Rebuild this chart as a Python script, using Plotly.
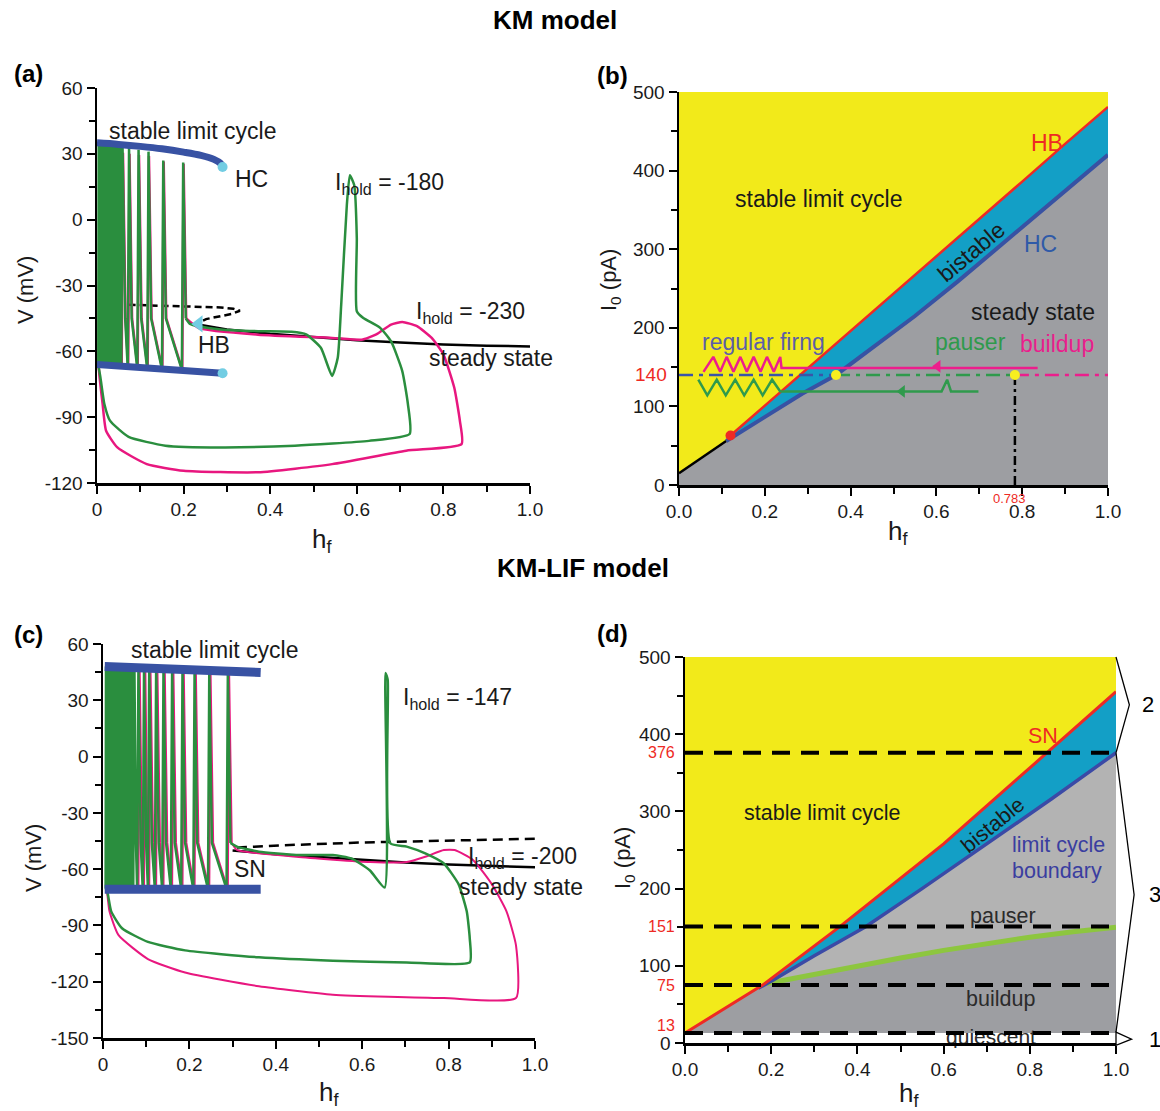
import plotly.graph_objects as go

W, H = 1160, 1111
FONT = "Arial, Liberation Sans, sans-serif"

YEL = "#f2ea1a"; CYAN = "#139fc6"; GRAY = "#9d9ea2"; LGRAY = "#b3b3b3"
GREEN = "#2a8e3e"; PINK = "#e8177f"; BLUE = "#3852a3"; CYAND = "#72cde3"
RED = "#ee2a24"; LGREEN = "#8dc63f"

# ---------------- panel (a) data ----------------
a_ss_hf = [0.24, 0.30, 0.40, 0.50, 0.60, 0.70, 0.80, 0.90, 1.00]
a_ss_v = [-48, -50, -52, -53.5, -55, -56, -56.9, -57.4, -57.8]
a_unst_hf = [0.073, 0.15, 0.22, 0.286, 0.315, 0.33, 0.31, 0.28, 0.252, 0.24]
a_unst_v = [-38.8, -39.2, -39.6, -40.0, -40.6, -41.5, -43.0, -44.2, -45.3, -46.5]
a_lcmax_hf = [0.0, 0.05, 0.10, 0.15, 0.20, 0.24, 0.27, 0.285, 0.29]
a_lcmax_v = [35.0, 34.3, 33.4, 32.3, 30.8, 29.3, 27.5, 25.7, 24.0]
a_lcmin_hf = [0.0, 0.10, 0.20, 0.29]
a_lcmin_v = [-66.0, -67.6, -68.9, -70.0]
a_hc_hf = [0.29, 0.29]
a_hc_v = [24.0, -70.0]
a_hb_hf = [0.235]
a_hb_v = [-47.5]

a_spk_hf = [0.003, 0.006, 0.009, 0.012, 0.015, 0.018, 0.021, 0.024, 0.027, 0.030, 0.033,
            0.036, 0.040, 0.044, 0.048, 0.052, 0.056, 0.071, 0.093, 0.116, 0.150, 0.196]
a_spk_peak = [34.5, 34.5, 34.4, 34.3, 34.2, 34.1, 34.0, 33.9, 33.8, 33.7, 33.6,
              33.5, 33.4, 33.3, 33.2, 33.1, 33.0, 32.6, 31.8, 31.0, 27.0, 26.0]
a_spk_base = [-66.5, -66.5, -66.6, -66.6, -66.7, -66.7, -66.8, -66.8, -66.9, -66.9, -67.0,
              -67.0, -67.1, -67.1, -67.2, -67.2, -67.3, -67.5, -67.8, -68.0, -68.3, -68.5]
a_spk_after = -45.0
a_green_tail_hf = [0.215, 0.235, 0.286, 0.372, 0.449, 0.483, 0.517, 0.543, 0.556, 0.564, 0.577,
                   0.584, 0.594, 0.600, 0.600, 0.615, 0.654, 0.679, 0.705, 0.718, 0.722, 0.628,
                   0.457, 0.286, 0.158, 0.073, 0.030, 0.017, 0.008, 0.003]
a_green_tail_v = [-47.5, -48.6, -50.0, -50.8, -51.1, -52.3, -58.4, -71.2, -62.9, -38.7, 6.7,
                  20.3, 15.8, -8.4, -41.7, -44.8, -49.3, -55.4, -69.0, -84.0, -97.7, -100.8,
                  -103.0, -103.8, -103.0, -99.0, -91.6, -84.0, -72.0, -66.5]
a_pink_spk_hf = [0.004, 0.010, 0.016, 0.022, 0.028, 0.034, 0.041, 0.049, 0.057, 0.072, 0.094,
                 0.117, 0.151, 0.197]
a_pink_spk_peak = [31.5, 31.5, 31.5, 31.0, 31.0, 31.0, 31.0, 30.5, 30.5, 30.0, 29.5, 29.0, 26.5, 25.5]
a_pink_spk_base = [-67.0, -67.0, -67.0, -67.0, -67.0, -67.0, -67.0, -67.2, -67.4, -67.6, -67.8,
                   -68.0, -68.3, -68.5]
a_pink_tail_hf = [0.235, 0.372, 0.543, 0.611, 0.645, 0.679, 0.705, 0.739, 0.773, 0.800, 0.825,
                  0.838, 0.842, 0.714, 0.543, 0.372, 0.200, 0.115, 0.047, 0.021, 0.013, 0.006, 0.004]
a_pink_tail_v = [-49.4, -52.4, -53.9, -54.7, -52.3, -47.8, -46.6, -48.5, -53.9, -61.4, -76.5,
                 -91.6, -102.3, -105.3, -111.4, -115.1, -114.4, -111.4, -103.8, -96.2, -84.1, -72.0, -67.0]

# ---------------- panel (b) data ----------------
b_black_hf = [0.0, 0.11]
b_black_I = [15, 56]
b_hc_hf = [0.11, 0.2, 0.287, 0.366, 0.45, 0.55, 0.65, 0.75, 0.85, 1.0]
b_hc_I = [56, 86, 116, 140, 174, 215, 259, 305, 352, 420]
b_hb_hf = [0.12, 0.2, 0.3, 0.4, 0.5, 0.6, 0.7, 0.8, 0.9, 1.0]
b_hb_I = [63, 101, 148, 195, 243, 290, 338, 386, 434, 481]
b_hold_I = 140
b_seg_hf = [0.0, 0.366, 0.783, 1.0]
b_pink_zz_hf = [0.057, 0.080, 0.096, 0.111, 0.127, 0.143, 0.158, 0.174, 0.190, 0.205, 0.221,
                0.236, 0.239, 0.836]
b_pink_zz_I = [144, 163, 144, 163, 144, 163, 144, 163, 144, 163, 144, 163, 149, 149]
b_green_zz_hf = [0.045, 0.066, 0.088, 0.109, 0.131, 0.152, 0.174, 0.195, 0.217, 0.236, 0.612,
                 0.625, 0.634, 0.698]
b_green_zz_I = [134, 114, 134, 114, 134, 114, 134, 114, 134, 119, 119, 134, 119, 119]
b_pink_arrow = ([0.603], [151])
b_green_arrow = ([0.52], [119])
b_red_pt = ([0.12], [63])
b_yel_hf = [0.366, 0.783]
b_yel_I = [140, 140]
b_full_hf = [0.0, 1.0]
b_full_I = [0, 500]

# ---------------- panel (c) data ----------------
c_ss_hf = [0.30, 0.40, 0.50, 0.60, 0.70, 0.80, 0.90, 1.00]
c_ss_v = [-50.0, -52.0, -53.5, -55.0, -56.5, -57.5, -58.3, -59.0]
c_unst_hf = [0.31, 0.45, 0.60, 0.80, 1.00]
c_unst_v = [-48.5, -47.0, -45.8, -44.6, -43.8]
c_lcmax_hf = [0.004, 0.10, 0.20, 0.30, 0.365]
c_lcmax_v = [48.0, 47.2, 46.3, 45.5, 44.8]
c_lcmin_hf = [0.004, 0.365]
c_lcmin_v = [-70.7, -70.7]
c_spk_hf = [0.006, 0.009, 0.012, 0.015, 0.018, 0.021, 0.024, 0.027, 0.030, 0.033, 0.036,
            0.039, 0.042, 0.045, 0.048, 0.051, 0.054, 0.057, 0.060, 0.063, 0.066, 0.070,
            0.079, 0.092, 0.104, 0.120, 0.137, 0.157, 0.181, 0.209, 0.243, 0.286]
c_spk_peak = [48, 48, 48, 48, 48, 48, 48, 48, 48, 48, 48, 48, 48, 48, 48, 48, 48, 48, 48, 48, 48, 48,
              47.5, 47.5, 47, 47, 46.5, 46.5, 46, 46, 45.5, 45]
c_spk_base = [-70.5, -70.5, -70.5, -70.5, -70.5, -70.5, -70.5, -70.5, -70.5, -70.5,
              -70.5, -70.5, -70.5, -70.5, -70.5, -70.5, -70.5, -70.5, -70.5, -70.5, -70.5,
              -70.5, -70.5, -70.5, -70.5, -70.5, -70.5, -70.5, -70.5, -70.5, -70.5, -70.5]
c_spk_after = -46.0
c_green_tail_hf = [0.31, 0.361, 0.447, 0.532, 0.575, 0.618, 0.652, 0.654, 0.659, 0.665, 0.703,
                   0.746, 0.789, 0.823, 0.842, 0.849, 0.849, 0.703, 0.532, 0.361, 0.19, 0.104,
                   0.044, 0.019, 0.010, 0.006]
c_green_tail_v = [-48.0, -50.7, -52.5, -52.5, -54.3, -60.7, -69.8, 44.6, 41.0, -46.2, -48.0,
                  -51.6, -57.0, -68.0, -82.5, -97.0, -109.7, -109.7, -108.8, -107.0, -103.3, -98.8,
                  -91.5, -82.5, -72.0, -70.5]
c_pink_spk_hf = [0.007, 0.013, 0.019, 0.025, 0.031, 0.037, 0.043, 0.049, 0.055, 0.061, 0.067,
                 0.082, 0.095, 0.107, 0.123, 0.140, 0.160, 0.184, 0.212, 0.246, 0.289]
c_pink_spk_peak = [46.5, 46.5, 46.5, 46.5, 46.5, 46.5, 46.5, 46.5, 46.5, 46.5, 46.5,
                   46.5, 46.5, 46, 46, 45.5, 45.5, 45, 45, 44.5, 44]
c_pink_spk_base = [-71.0, -71.0, -71.0, -71.0, -71.0, -71.0, -71.0, -71.0, -71.0, -71.0, -71.0,
                   -71.0, -71.0, -71.0, -71.0, -71.0, -71.0, -71.0, -71.0, -71.0, -71.0]
c_pink_tail_hf = [0.31, 0.447, 0.618, 0.703, 0.746, 0.789, 0.814, 0.857, 0.90, 0.934, 0.956,
                  0.956, 0.789, 0.532, 0.361, 0.19, 0.104, 0.036, 0.015, 0.009, 0.006]
c_pink_tail_v = [-49.8, -53.4, -56.2, -56.2, -53.4, -49.8, -49.8, -55.2, -68.0, -82.5, -100.6,
                 -128.7, -128.7, -126.9, -122.4, -115.1, -107.9, -95.2, -82.5, -72.0, -71.0]

# ---------------- panel (d) data ----------------
d_sn_hf = [0.0, 0.18, 0.36, 0.6, 0.84, 1.0]
d_sn_I = [13, 75, 151, 258, 376, 455]
d_lcb_hf = [0.17, 0.2, 0.3, 0.42, 0.55, 0.7, 0.85, 1.0]
d_lcb_I = [71, 80, 113, 151, 200, 258, 316, 376]
d_pz_hf = [0.19, 0.3, 0.4, 0.5, 0.6, 0.7, 0.8, 0.9, 1.0]
d_pz_I = [77, 89, 99, 110, 120, 129, 137, 144, 150]
d_levels = [13, 75, 151, 376]
d_level_text = ["13", "75", "151", "376"]
d_full_hf = [0.0, 1.0]
d_top_I = 500
d_br2_hf = [1.0, 1.031, 1.0]; d_br2_I = [500, 438, 376]
d_br3_hf = [1.0, 1.042, 1.0]; d_br3_I = [376, 192, 14]
d_br1_hf = [1.0, 1.036, 1.0]; d_br1_I = [14, 5, -3]
d_br_labels = ["2", "3", "1"]
d_br_label_hf = [1.056, 1.072, 1.072]
d_br_label_I = [438, 192, 5]

# tick labels
x_ticks = [0, 0.2, 0.4, 0.6, 0.8, 1.0]
x_text_int = ["0", "0.2", "0.4", "0.6", "0.8", "1.0"]
x_text_dec = ["0.0", "0.2", "0.4", "0.6", "0.8", "1.0"]
v_ticks_a = [-120, -90, -60, -30, 0, 30, 60]
v_text_a = ["-120", "-90", "-60", "-30", "0", "30", "60"]
v_ticks_c = [-150, -120, -90, -60, -30, 0, 30, 60]
v_text_c = ["-150", "-120", "-90", "-60", "-30", "0", "30", "60"]
i_ticks = [0, 100, 200, 300, 400, 500]
i_text = ["0", "100", "200", "300", "400", "500"]

# ---------------- layout geometry (pixels) ----------------
BOX = {"a": (97, 530, 88, 483), "b": (679, 1108, 92, 485),
       "c": (103, 535, 644, 1038), "d": (685, 1116, 657, 1043)}


def xdom(k):
    b = BOX[k]
    return [b[0] / W, b[1] / W]


def ydom(k):
    b = BOX[k]
    return [1 - b[3] / H, 1 - b[2] / H]


def spike_path(pos, peak, base, after):
    xs, ys = [], []
    n = len(pos)
    for i in range(n):
        gap = (pos[i + 1] - pos[i]) if i < n - 1 else 0.02
        r = min(0.003, 0.3 * gap)
        f = min(0.006, 0.4 * gap)
        xs += [pos[i], pos[i] + r, pos[i] + r + f]
        ys += [base[i], peak[i], after]
    return xs, ys


fig = go.Figure()
A = ("x", "y"); B = ("x2", "y2"); C = ("x3", "y3"); D = ("x4", "y4")


def add(ax, x, y, **kw):
    fig.add_trace(go.Scatter(x=x, y=y, xaxis=ax[0], yaxis=ax[1], showlegend=False,
                             hoverinfo="skip", **kw))


def traj(ax, pos, peak, base, after, tail_x, tail_y, color, width):
    sx, sy = spike_path(pos, peak, base, after)
    add(ax, sx, sy, mode="lines", line=dict(color=color, width=width))
    add(ax, sx[-1:] + tail_x, sy[-1:] + tail_y, mode="lines",
        line=dict(color=color, width=width, shape="spline", smoothing=0.5))


# ---------- (a) ----------
add(A, a_ss_hf, a_ss_v, mode="lines", line=dict(color="black", width=2.5))
add(A, a_unst_hf, a_unst_v, mode="lines", line=dict(color="black", width=2.5, dash="7px,4px"))
traj(A, a_pink_spk_hf, a_pink_spk_peak, a_pink_spk_base, a_spk_after, a_pink_tail_hf, a_pink_tail_v, PINK, 2.5)
traj(A, a_spk_hf, a_spk_peak, a_spk_base, a_spk_after, a_green_tail_hf, a_green_tail_v, GREEN, 2.5)
add(A, a_lcmax_hf, a_lcmax_v, mode="lines", line=dict(color=BLUE, width=7, shape="spline"))
add(A, a_lcmin_hf, a_lcmin_v, mode="lines", line=dict(color=BLUE, width=7))
add(A, a_hc_hf, a_hc_v, mode="markers", marker=dict(color=CYAND, size=10))
add(A, a_hb_hf, a_hb_v, mode="markers", marker=dict(color=CYAND, size=15, symbol="triangle-left"))

# ---------- (b) ----------
add(B, [b_full_hf[0], b_full_hf[1], b_full_hf[1], b_full_hf[0]],
    [b_full_I[0], b_full_I[0], b_full_I[1], b_full_I[1]],
    mode="lines", fill="toself", fillcolor=YEL, line=dict(width=0))
add(B, [b_full_hf[0]] + b_black_hf + b_hc_hf + [b_full_hf[1]],
    [b_full_I[0]] + b_black_I + b_hc_I + [b_full_I[0]],
    mode="lines", fill="toself", fillcolor=GRAY, line=dict(width=0))
add(B, b_hb_hf + b_hc_hf[::-1], b_hb_I + b_hc_I[::-1],
    mode="lines", fill="toself", fillcolor=CYAN, line=dict(width=0))
add(B, b_black_hf, b_black_I, mode="lines", line=dict(color="black", width=2.5))
add(B, b_hc_hf, b_hc_I, mode="lines", line=dict(color=BLUE, width=4))
add(B, b_hb_hf, b_hb_I, mode="lines", line=dict(color=RED, width=2.5))
add(B, b_red_pt[0], b_red_pt[1], mode="markers", marker=dict(color=RED, size=10))
DD = "14px,6px,4px,6px"
add(B, b_seg_hf[0:2], [b_hold_I, b_hold_I], mode="lines", line=dict(color="#3a55a8", width=2.5, dash=DD))
add(B, b_seg_hf[1:3], [b_hold_I, b_hold_I], mode="lines", line=dict(color="#2f9a4c", width=2.5, dash=DD))
add(B, b_seg_hf[2:4], [b_hold_I, b_hold_I], mode="lines", line=dict(color="#ec1e8c", width=2.5, dash=DD))
add(B, [b_yel_hf[1], b_yel_hf[1]], [b_full_I[0], b_hold_I], mode="lines",
    line=dict(color="black", width=2.5, dash="9px,4px,3px,4px"))
add(B, b_yel_hf, b_yel_I, mode="markers", marker=dict(color="#f7ef1f", size=10))
add(B, b_pink_zz_hf, b_pink_zz_I, mode="lines", line=dict(color="#ec1e8c", width=2.5))
add(B, b_green_zz_hf, b_green_zz_I, mode="lines", line=dict(color="#2f9a4c", width=2.5))
add(B, b_pink_arrow[0], b_pink_arrow[1], mode="markers",
    marker=dict(color="#ec1e8c", size=11, symbol="triangle-left"))
add(B, b_green_arrow[0], b_green_arrow[1], mode="markers",
    marker=dict(color="#2f9a4c", size=11, symbol="triangle-left"))

# ---------- (c) ----------
add(C, c_unst_hf, c_unst_v, mode="lines", line=dict(color="black", width=2.5, dash="10px,6px"))
add(C, c_ss_hf, c_ss_v, mode="lines", line=dict(color="black", width=2.5))
traj(C, c_pink_spk_hf, c_pink_spk_peak, c_pink_spk_base, c_spk_after, c_pink_tail_hf, c_pink_tail_v, PINK, 2)
traj(C, c_spk_hf, c_spk_peak, c_spk_base, c_spk_after, c_green_tail_hf, c_green_tail_v, GREEN, 2.5)
add(C, c_lcmax_hf, c_lcmax_v, mode="lines", line=dict(color=BLUE, width=9))
add(C, c_lcmin_hf, c_lcmin_v, mode="lines", line=dict(color=BLUE, width=9))

# ---------- (d) ----------
add(D, [d_full_hf[0], d_full_hf[1], d_full_hf[1], d_full_hf[0]],
    [d_levels[0], d_levels[0], d_top_I, d_top_I],
    mode="lines", fill="toself", fillcolor=YEL, line=dict(width=0))
add(D, d_sn_hf[:2] + d_pz_hf + [d_full_hf[1]], d_sn_I[:2] + d_pz_I + [d_levels[0]],
    mode="lines", fill="toself", fillcolor=GRAY, line=dict(width=0))
add(D, d_lcb_hf + d_pz_hf[::-1], d_lcb_I + d_pz_I[::-1],
    mode="lines", fill="toself", fillcolor=LGRAY, line=dict(width=0))
add(D, d_sn_hf[1:] + d_lcb_hf[::-1], d_sn_I[1:] + d_lcb_I[::-1],
    mode="lines", fill="toself", fillcolor=CYAN, line=dict(width=0))
add(D, d_pz_hf, d_pz_I, mode="lines", line=dict(color=LGREEN, width=5))
add(D, d_lcb_hf, d_lcb_I, mode="lines", line=dict(color="#3b4aa6", width=3.5))
add(D, d_sn_hf, d_sn_I, mode="lines", line=dict(color=RED, width=3))
fig.add_trace(go.Scatter(x=[0.71], y=[6], xaxis="x4", yaxis="y4", mode="text", text=["quiescent"],
                         textfont=dict(family=FONT, size=21, color="#2b2b2b"), cliponaxis=False,
                         showlegend=False, hoverinfo="skip"))
for lev in d_levels:
    add(D, d_full_hf, [lev, lev], mode="lines", line=dict(color="black", width=4, dash="18px,11px"))

# ---------- axes ----------
TF = dict(family=FONT, size=19, color="#1a1a1a")


def axis(dom, anchor, rng, vals, texts, minor):
    return dict(domain=dom, anchor=anchor, range=rng, showline=True, linecolor="black",
                linewidth=2.5, ticks="outside", ticklen=8, tickwidth=2, tickcolor="black",
                showgrid=False, zeroline=False, tickfont=TF, fixedrange=True, automargin=False,
                tickmode="array", tickvals=vals, ticktext=texts,
                minor=dict(tickmode="linear", tick0=0, dtick=minor, ticks="outside", ticklen=6,
                           tickwidth=2, tickcolor="black"))


layout = dict(
    template="none",
    width=W, height=H, margin=dict(l=0, r=0, t=0, b=0, pad=0, autoexpand=False),
    paper_bgcolor="white", plot_bgcolor="white", showlegend=False,
    xaxis=axis(xdom("a"), "y", [0, 1.0], x_ticks, x_text_int, 0.1),
    yaxis=axis(ydom("a"), "x", [-120, 60], v_ticks_a, v_text_a, 15),
    xaxis2=axis(xdom("b"), "y2", [0, 1.0], x_ticks, x_text_dec, 0.1),
    yaxis2=axis(ydom("b"), "x2", [0, 500], i_ticks, i_text, 50),
    xaxis3=axis(xdom("c"), "y3", [0, 1.0], x_ticks, x_text_int, 0.1),
    yaxis3=axis(ydom("c"), "x3", [-150, 60], v_ticks_c, v_text_c, 15),
    xaxis4=axis(xdom("d"), "y4", [0, 1.0], x_ticks, x_text_dec, 0.1),
    yaxis4=axis(ydom("d"), "x4", [0, 500], i_ticks, i_text, 50),
)

ann = []


def note(text, x, y, ref, size=23, color="#1a1a1a", xanchor="center", yanchor="middle", **kw):
    d = dict(text=text, x=x, y=y, showarrow=False, xanchor=xanchor, yanchor=yanchor,
             font=dict(family=FONT, size=size, color=color))
    if ref == "paper":
        d.update(xref="paper", yref="paper", x=x / W, y=1 - y / H)
    elif ref == "frac":
        d.update(xref="paper", yref="paper")
    else:
        d.update(xref=ref[0], yref=ref[1])
    d.update(kw)
    ann.append(d)


# titles, panel letters, axis titles (pixel positions)
note("<b>KM model</b>", 555, 20, "paper", size=26, color="black")
note("<b>KM-LIF model</b>", 583, 568, "paper", size=26, color="black")
for lab, px_, py_ in [("(a)", 28, 74), ("(b)", 612, 75), ("(c)", 28, 634), ("(d)", 612, 633)]:
    note("<b>" + lab + "</b>", px_, py_, "paper", size=24, color="black")
note("V (mV)", 25, 290, "paper", size=22, textangle=-90)
note("V (mV)", 33, 858, "paper", size=22, textangle=-90)
note("I<sub>0</sub> (pA)", 610, 280, "paper", size=22, textangle=-90)
note("I<sub>0</sub> (pA)", 624, 858, "paper", size=22, textangle=-90)
note("h<sub>f</sub>", 322, 540, "paper", size=26)
note("h<sub>f</sub>", 898, 532, "paper", size=26)
note("h<sub>f</sub>", 329, 1093, "paper", size=26)
note("h<sub>f</sub>", 909, 1094, "paper", size=26)

# (a)
note("stable limit cycle", 0.22, 40.4, A)
note("HC", 0.357, 18.5, A)
note("I<sub>hold</sub> = -180", 0.544, 16.5, A, xanchor="left")
note("I<sub>hold</sub> = -230", 0.733, -42.5, A, xanchor="left")
note("HB", 0.27, -57, A)
note("steady state", 0.763, -63.2, A, xanchor="left")

# (b)
note("stable limit cycle", 0.326, 364, B)
note("HB", 0.857, 435, B, color=RED)
note("bistable", 0.681, 296, B, textangle=-40)
note("HC", 0.843, 307, B, color="#2f5aa8")
note("steady state", 0.825, 220, B)
note("regular firng", 0.198, 182, B, color="#5c5fa8")
note("pauser", 0.68, 182, B, color="#2f9a4c")
note("buildup", 0.882, 180, B, color="#e91e8c")
note(str(b_hold_I), 0, b_hold_I, B, size=19, color=RED, xanchor="right", xshift=-10)
note("0.783", b_yel_hf[1], 0, B, size=13, color=RED, yanchor="top", yshift=-4, xshift=-5)

# (c)
note("stable limit cycle", 0.257, 57, C)
note("I<sub>hold</sub> = -147", 0.69, 31, C, xanchor="left")
note("SN", 0.34, -60, C)
note("I<sub>hold</sub> = -200", 0.84, -54, C, xanchor="left")
note("steady state", 0.82, -69.6, C, xanchor="left")

# (d)
note("stable limit cycle", 0.32, 298, D, size=21.5)
note("SN", 0.83, 398, D, size=21.5, color=RED)
note("bistable", 0.715, 282, D, size=21.5, textangle=-39)
note("limit cycle", 0.866, 256, D, size=21.5, color="#3a3ea0")
note("boundary", 0.864, 223, D, size=21.5, color="#3a3ea0")
note("pauser", 0.738, 164, D, size=21.5, color="#2b2b2b")
note("buildup", 0.732, 57, D, size=21.5, color="#2b2b2b")
for lev, txt in zip(d_levels, d_level_text):
    note(txt, 0, lev, D, size=16, color=RED, xanchor="right", xshift=-8,
         yshift=(7 if lev == d_levels[0] else 0))

# brackets on the right of (d): map data -> paper using the same axis domain/range
xd, yd = xdom("d"), ydom("d")


def to_paper(hf, I):
    return (xd[0] + (hf - 0.0) / 1.0 * (xd[1] - xd[0]),
            yd[0] + (I - 0.0) / 500.0 * (yd[1] - yd[0]))


for txt, hx, hy in zip(d_br_labels, d_br_label_hf, d_br_label_I):
    px_, py_ = to_paper(hx, hy)
    note(txt, px_, py_, "frac", size=22, color="black", xanchor="left")

layout["annotations"] = ann

shapes = []
for hx, hy, fillc in [(d_br2_hf, d_br2_I, None), (d_br3_hf, d_br3_I, None), (d_br1_hf, d_br1_I, "white")]:
    pts = [to_paper(a, b) for a, b in zip(hx, hy)]
    path = "M " + " L ".join("%.5f,%.5f" % p for p in pts)
    if fillc:
        path += " Z"
    shapes.append(dict(type="path", xref="paper", yref="paper", path=path,
                       line=dict(color="black", width=1.3), fillcolor=fillc or "rgba(0,0,0,0)"))
layout["shapes"] = shapes

fig.update_layout(**layout)
fig.write_html("out.html", config={"displayModeBar": False, "staticPlot": True},
               post_script="document.body.style.margin='0px';document.body.style.overflow='hidden';")
